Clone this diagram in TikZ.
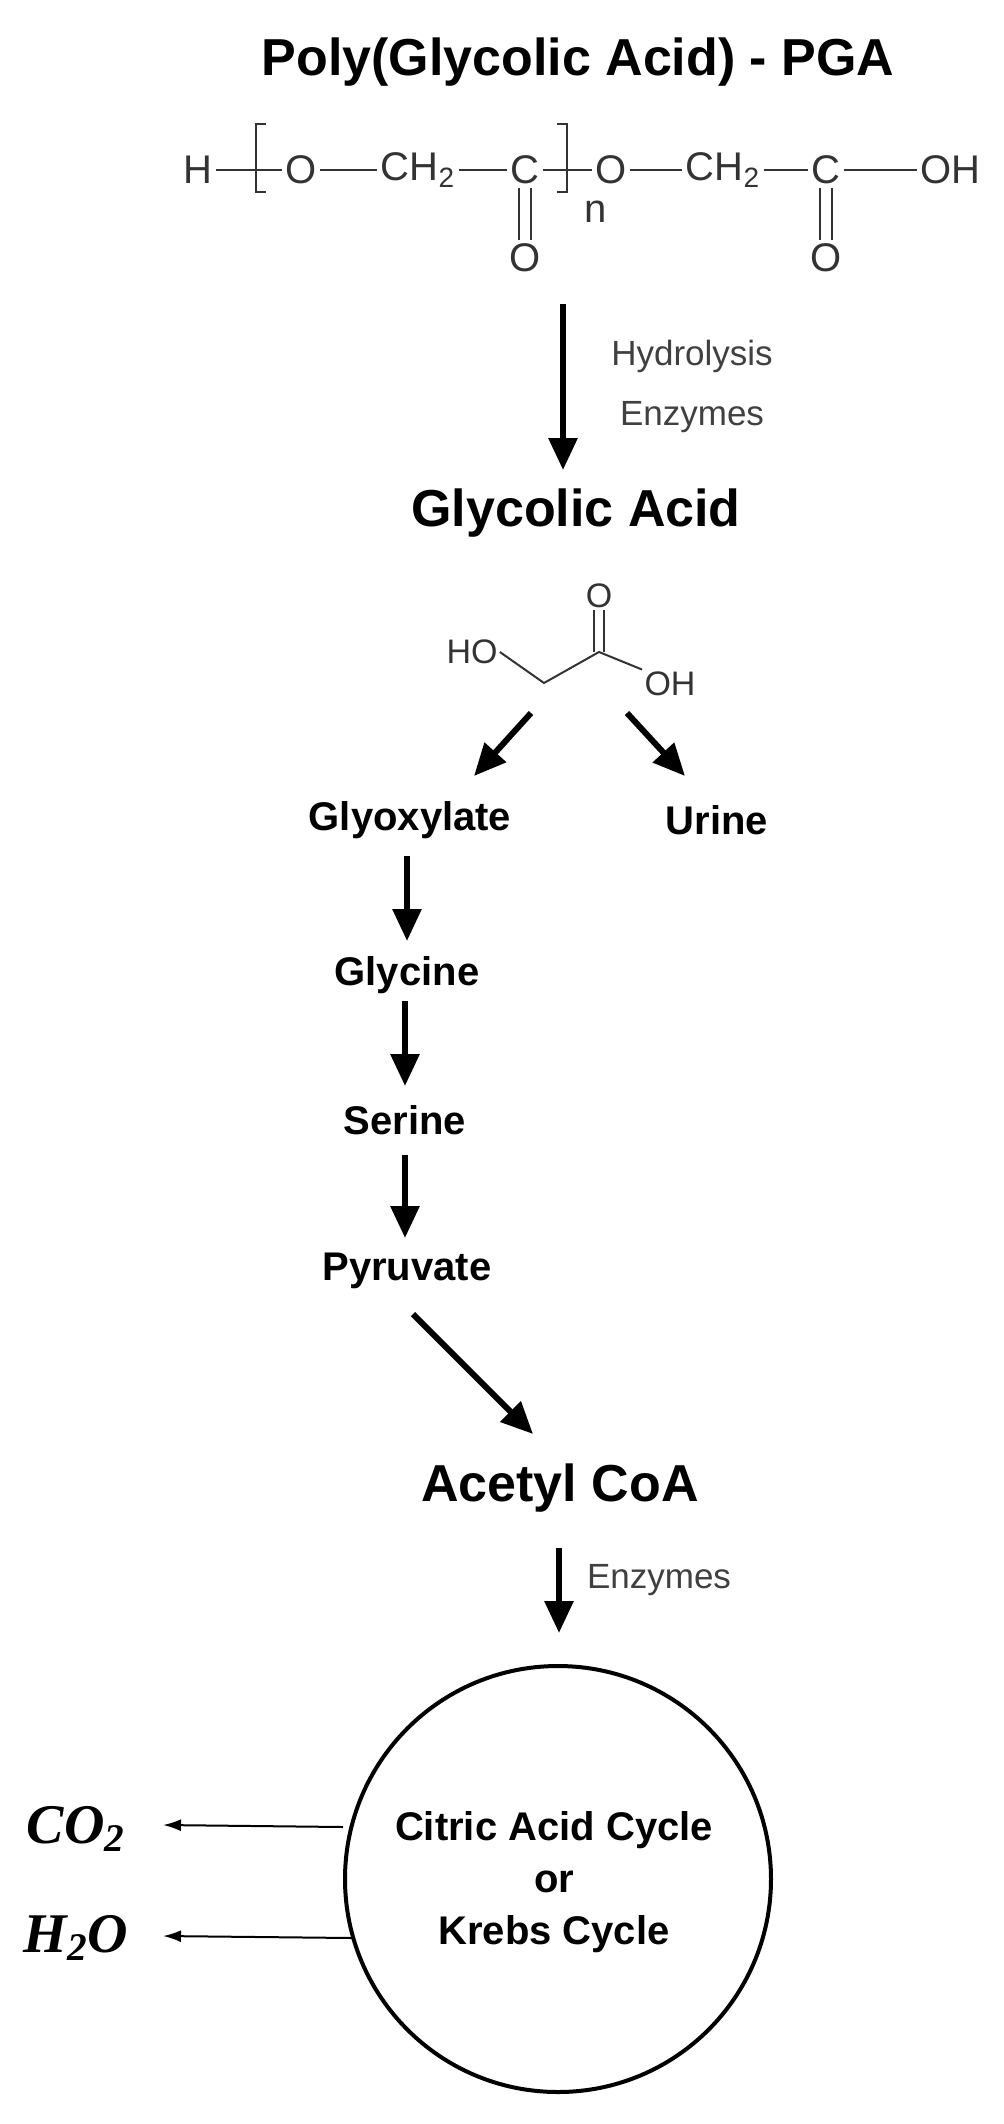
\documentclass[tikz,border=0pt]{standalone}
\usepackage{fontspec}
\setmainfont{Liberation Sans}
\newfontfamily\mathserif{Liberation Serif}
\usetikzlibrary{arrows.meta}
\begin{document}
\begin{tikzpicture}[x=0.5pt,y=-0.5pt,
  big/.style={font=\fontsize{26}{30}\selectfont\bfseries},
  mid/.style={font=\fontsize{20}{24}\selectfont\bfseries},
  chem/.style={font=\fontsize{20}{24}\selectfont, text=black!80, inner sep=1.5pt},
  schem/.style={font=\fontsize{17}{20}\selectfont, text=black!80, inner sep=1pt},
  lab/.style={font=\fontsize{17.5}{20}\selectfont, text=black!75},
  fat/.style={line width=3pt,-{Triangle[length=16pt,width=14pt]}},
  thin/.style={line width=1pt,-{Latex[length=9pt,width=6pt]}},
  bond/.style={line width=1pt,black!80},
  math/.style={font=\fontsize{28}{32}\selectfont\mathserif\bfseries\itshape}]
\useasboundingbox (0,0) rectangle (1004,2124);
% title
\node[big] (title) at (578,62) {Poly(Glycolic Acid) - PGA};
% polymer formula
\node[chem] (H) at (198,170) {H};
\node[chem] (O1) at (301,170) {O};
\node[chem] (C1a) at (418,170) {CH\textsubscript{2}};
\node[chem] (C1) at (525,170) {C};
\node[chem] (O2) at (611,170) {O};
\node[chem] (C2a) at (723,170) {CH\textsubscript{2}};
\node[chem] (C2) at (826,170) {C};
\node[chem] (OH) at (950,170) {OH};
\node[chem] (Od1) at (525,258) {O};
\node[chem] (Od2) at (826,258) {O};
\node[chem] (n) at (596,212) {n};
\draw[bond] (H) -- (O1);
\draw[bond] (O1) -- (C1a);
\draw[bond] (C1a) -- (C1);
\draw[bond] (C1) -- (O2);
\draw[bond] (O2) -- (C2a);
\draw[bond] (C2a) -- (C2);
\draw[bond] (C2) -- (OH);
\draw[bond] ([xshift=-3pt]C1.south) -- ([xshift=-3pt]Od1.north);
\draw[bond] ([xshift=3pt]C1.south) -- ([xshift=3pt]Od1.north);
\draw[bond] ([xshift=-3pt]C2.south) -- ([xshift=-3pt]Od2.north);
\draw[bond] ([xshift=3pt]C2.south) -- ([xshift=3pt]Od2.north);
\draw[bond] (266,124) -- (256,124) -- (256,192) -- (266,192);
\draw[bond] (557,124) -- (567,124) -- (567,192) -- (557,192);
% hydrolysis
\node[big] (ga) at (576,513) {Glycolic Acid};
\draw[fat] (563,304) -- (563,470);
\node[lab,align=center] (hyd) at (692,386) {Hydrolysis\\[10pt]Enzymes};
% glycolic acid skeletal
\node[schem] (HO) at (472,652) {HO};
\node[schem] (OHb) at (670,684) {OH};
\node[schem] (Ob) at (599,596) {O};
\coordinate (v1) at (544,683);
\coordinate (v2) at (599,652);
\draw[bond] (HO.east) -- (v1) -- (v2) -- (OHb.north west);
\draw[bond] ([xshift=-2.5pt]v2) -- ([xshift=-2.5pt]Ob.south);
\draw[bond] ([xshift=2.5pt]v2) -- ([xshift=2.5pt]Ob.south);
% branches
\node[mid] (gly) at (410,820) {Glyoxylate};
\node[mid] (uri) at (717,820) {Urine};
\draw[fat] (531,713) -- (474,776);
\draw[fat] (627,713) -- (685,776);
\node[mid] (glc) at (407,975) {Glycine};
\node[mid] (ser) at (405,1120) {Serine};
\node[mid] (pyr) at (407,1271) {Pyruvate};
\draw[fat] (407,856) -- (407,941);
\draw[fat] (405,1001) -- (405,1086);
\draw[fat] (405,1155) -- (405,1238);
\node[big] (acc) at (560,1488) {Acetyl CoA};
\draw[fat] (413,1314) -- (533,1434);
% circle
\node[circle,draw,line width=2pt,minimum size=213pt] (cyc) at (558,1879) {};
\node[mid,align=center] (cyct) at (554,1882) {Citric Acid Cycle\\[2pt]or\\[2pt]Krebs Cycle};
\draw[fat] (559,1548) -- (559,1633);
\node[lab] (enz) at (659,1580) {Enzymes};
\node[math] (co2) at (76,1829) {CO\textsubscript{2}};
\node[math] (h2o) at (76,1938) {H\textsubscript{2}O};
\draw[thin] (cyc.west |- 0,1827) -- (163,1825);
\draw[thin] (352,1938) -- (163,1936);
\end{tikzpicture}
\end{document}
